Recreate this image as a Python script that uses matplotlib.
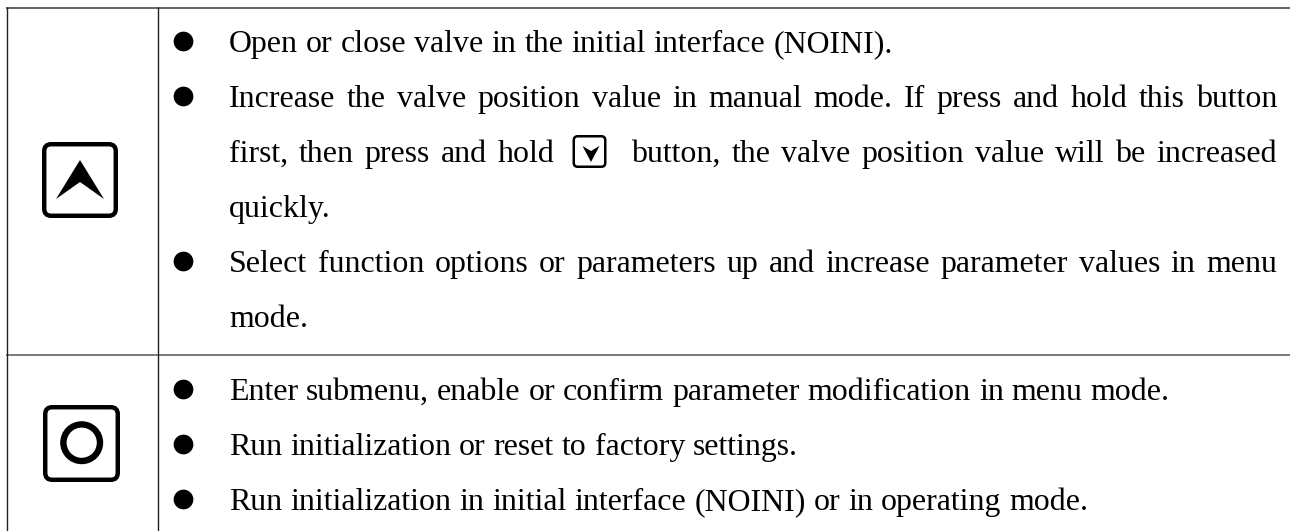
import matplotlib
matplotlib.use("Agg")
import matplotlib.pyplot as plt
from matplotlib.patches import FancyBboxPatch, Polygon, Circle

# every line of the table text, with its bullet and whether it is justified
text_lines = [
    "Open or close valve in the initial interface (NOINI).",
    "Increase the valve position value in manual mode. If press and hold this button",
    "first, then press and hold @ button, the valve position value will be increased",
    "quickly.",
    "Select function options or parameters up and increase parameter values in menu",
    "mode.",
    "Enter submenu, enable or confirm parameter modification in menu mode.",
    "Run initialization or reset to factory settings.",
    "Run initialization in initial interface (NOINI) or in operating mode.",
]
baselines = [52, 107, 162, 217, 272, 327, 400, 455, 510]
has_bullet = [True, True, False, False, True, False, True, True, True]
justified = [False, True, True, False, True, False, False, False, False]

plt.rcParams['font.family'] = ['Liberation Serif']
fig = plt.figure(figsize=(12.9, 5.31), dpi=100)
ax = fig.add_axes([0, 0, 1, 1])
ax.set_xlim(0, 1290)
ax.set_ylim(531, 0)
ax.axis('off')

# table rules
ax.plot([6, 1290], [7.5, 7.5], color="#555555", lw=1.3, solid_capstyle="butt")
ax.plot([6, 1290], [354.5, 354.5], color="#555555", lw=1.1, solid_capstyle="butt")
ax.plot([6.5, 6.5], [7, 531], color="#222222", lw=1.0, solid_capstyle="butt")
ax.plot([157.5, 157.5], [7, 531], color="#222222", lw=1.0, solid_capstyle="butt")


def button(x0, y0, x1, y1, lw=3.2, radius=7):
    inset = lw / 0.72 / 2
    ax.add_patch(FancyBboxPatch((x0 + inset, y0 + inset), x1 - x0 - 2 * inset, y1 - y0 - 2 * inset,
                                boxstyle="round,pad=0,rounding_size=%g" % radius, mutation_scale=1,
                                fc="white", ec="black", lw=lw))


# up button
button(42, 142, 118, 218)
ax.add_patch(Polygon([(80, 160), (104, 199), (80, 182), (56, 199)], fc="black", ec="none"))

# ok button
button(43, 405, 120, 482)
ax.add_patch(Circle((81.7, 442.7), 18.3, fc="white", ec="black", lw=4.6))

renderer = fig.canvas.get_renderer()
left = 229
right = 1277
fs = 22.95
icon_slot = 55
icon_offset = 7
icon_width = 34


def word_width(w):
    if w == "@":
        return icon_slot
    t = ax.text(0, 0, w, fontsize=fs)
    width = t.get_window_extent(renderer).width
    t.remove()
    return width


def small_button(x, base):
    x = x + icon_offset
    top = base - 27
    button(x, top, x + icon_width, top + 33, lw=1.8, radius=4)
    ax.add_patch(Polygon([(x + 10, top + 11), (x + 18.5, top + 16), (x + 27, top + 11), (x + 18.5, top + 27)],
                         fc="black", ec="none"))


for line, base, bullet, just in zip(text_lines, baselines, has_bullet, justified):
    if bullet:
        ax.plot([183], [base - 11], marker="o", ms=14.2, color="black", mec="none")
    words = line.split(" ")
    widths = [word_width(w) for w in words]
    space = word_width("a a") - word_width("aa")
    if just:
        space = (right - left - sum(widths)) / (len(words) - 1)
    x = left
    for w, width in zip(words, widths):
        if w == "@":
            small_button(x, base)
        else:
            ax.text(x, base, w, fontsize=fs, color="black", va="baseline", ha="left")
        x += width + space

fig.savefig("out.png", dpi=100)
